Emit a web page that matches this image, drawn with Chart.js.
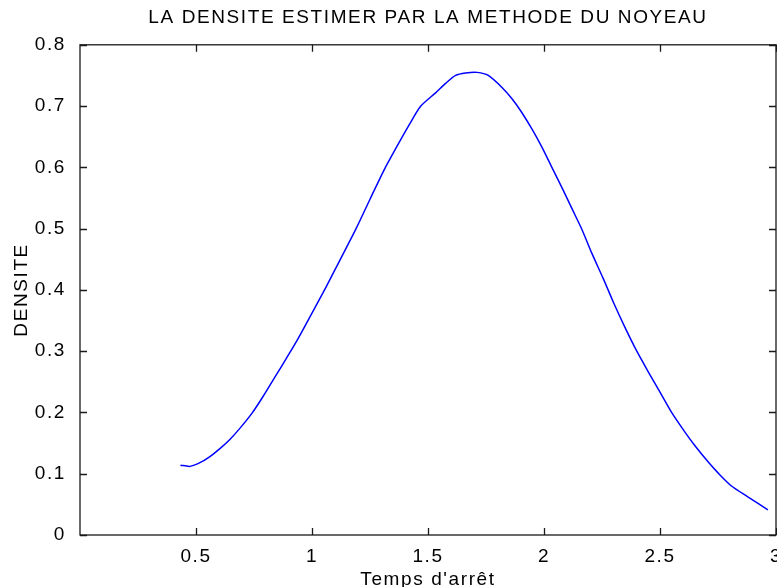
<!DOCTYPE html>
<html>
<head>
<meta charset="utf-8">
<title>Densite - methode du noyau</title>
<script src="https://cdn.jsdelivr.net/npm/chart.js@4"></script>
<style>
    html, body { margin: 0; padding: 0; background: #fff; }
    canvas { display: block; }
</style>
</head>
<body>
<canvas id="densityChart" width="777" height="587"></canvas>
<script>
// values
const tempsArret = [
    0.433, 0.474, 0.517, 0.560, 0.603, 0.646, 0.689, 0.740, 0.789, 0.860,
    0.932, 0.997, 1.061, 1.125, 1.190, 1.250, 1.311, 1.360, 1.420, 1.469,
    1.534, 1.576, 1.619, 1.662, 1.712, 1.760, 1.820, 1.862, 1.900, 1.949,
    1.991, 2.034, 2.080, 2.120, 2.163, 2.206, 2.256, 2.300, 2.350, 2.400,
    2.450, 2.500, 2.550, 2.600, 2.650, 2.708, 2.751, 2.808, 2.880, 2.965
];
const densite = [
    0.114, 0.112, 0.118, 0.128, 0.141, 0.156, 0.174, 0.198, 0.226, 0.270,
    0.315, 0.360, 0.405, 0.452, 0.500, 0.548, 0.596, 0.630, 0.670, 0.700,
    0.722, 0.737, 0.750, 0.754, 0.755, 0.750, 0.730, 0.712, 0.692, 0.662,
    0.633, 0.600, 0.565, 0.533, 0.499, 0.460, 0.418, 0.379, 0.338, 0.300,
    0.266, 0.233, 0.200, 0.172, 0.146, 0.119, 0.101, 0.080, 0.062, 0.041
];
const xTicks = [0.5, 1, 1.5, 2, 2.5, 3];
const xTickLabels = ['0.5', '1', '1.5', '2', '2.5', '3'];
const yTicks = [0, 0.1, 0.2, 0.3, 0.4, 0.5, 0.6, 0.7, 0.8];
const yTickLabels = ['0', '0.1', '0.2', '0.3', '0.4', '0.5', '0.6', '0.7', '0.8'];

const FONT = "'Liberation Sans', Arial, Helvetica, sans-serif";
const AXIS_COLOR = '#1a1a1a';

// matlab-ish wide text spacing
const letterSpacing = {
    id: 'letterSpacing',
    beforeLayout(chart) { chart.ctx.letterSpacing = '1.6px'; },
    beforeDraw(chart) { chart.ctx.letterSpacing = '1.6px'; }
};

// box around the axes + inward ticks on all four sides
const axesBox = {
    id: 'axesBox',
    afterDatasetsDraw(chart) {
        const { ctx, chartArea: a, scales } = chart;
        const len = 7;
        ctx.save();
        ctx.strokeStyle = AXIS_COLOR;
        ctx.lineWidth = 1.3;
        ctx.strokeRect(a.left, a.top, a.right - a.left, a.bottom - a.top);
        ctx.beginPath();
        scales.x.ticks.forEach(t => {
            const px = Math.round(scales.x.getPixelForValue(t.value)) + 0.5;
            ctx.moveTo(px, a.bottom); ctx.lineTo(px, a.bottom - len);
            ctx.moveTo(px, a.top); ctx.lineTo(px, a.top + len);
        });
        scales.y.ticks.forEach(t => {
            const py = Math.round(scales.y.getPixelForValue(t.value)) + 0.5;
            ctx.moveTo(a.left, py); ctx.lineTo(a.left + len, py);
            ctx.moveTo(a.right, py); ctx.lineTo(a.right - len, py);
        });
        ctx.stroke();
        ctx.restore();
    }
};

const ctx = document.getElementById('densityChart').getContext('2d');

new Chart(ctx, {
    type: 'line',
    data: {
        datasets: [{
            data: tempsArret.map((t, i) => ({ x: t, y: densite[i] })),
            borderColor: '#0000ff',
            borderWidth: 1.5,
            pointRadius: 0,
            fill: false,
            tension: 0.25
        }]
    },
    options: {
        responsive: false,
        animation: false,
        layout: { padding: { left: 0, right: 1, top: 0, bottom: 0 } },
        plugins: {
            legend: { display: false },
            tooltip: { enabled: false },
            title: {
                display: true,
                fullSize: false,
                text: 'LA DENSITE ESTIMER PAR LA METHODE DU NOYEAU',
                color: '#000',
                font: { family: FONT, size: 19, weight: 'normal' },
                padding: { top: 6, bottom: 16 }
            }
        },
        scales: {
            x: {
                type: 'linear',
                min: 0,
                max: 3,
                grid: { display: false },
                border: { display: false },
                afterBuildTicks: s => { s.ticks = xTicks.map(v => ({ value: v })); },
                afterFit: s => { s.height = 52; s.paddingLeft = 0; s.paddingRight = 0; },
                ticks: {
                    autoSkip: false,
                    maxRotation: 0,
                    padding: 2,
                    color: '#000',
                    font: { family: FONT, size: 19 },
                    callback: (v, i) => xTickLabels[i]
                },
                title: {
                    display: true,
                    text: "Temps d'arrêt",
                    color: '#000',
                    font: { family: FONT, size: 19 },
                    padding: { top: 0, bottom: -4 }
                }
            },
            y: {
                min: 0,
                max: 0.8,
                grid: { display: false },
                border: { display: false },
                afterBuildTicks: s => { s.ticks = yTicks.map(v => ({ value: v })); },
                afterFit: s => { s.width = 80; s.paddingTop = 0; s.paddingBottom = 0; },
                ticks: {
                    padding: 6,
                    color: '#000',
                    font: { family: FONT, size: 19 },
                    callback: (v, i) => yTickLabels[i]
                },
                title: {
                    display: true,
                    text: 'DENSITE',
                    color: '#000',
                    font: { family: FONT, size: 19 },
                    padding: { top: 10, bottom: 0 }
                }
            }
        }
    },
    plugins: [letterSpacing, axesBox]
});
</script>
</body>
</html>
